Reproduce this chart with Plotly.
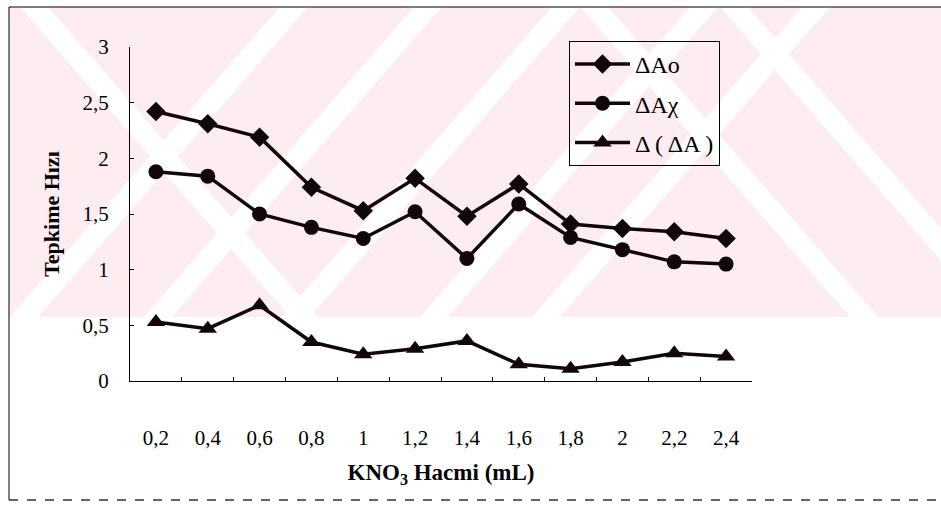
import plotly.graph_objects as go

# ---- data ----
categories = ["0,2", "0,4", "0,6", "0,8", "1", "1,2", "1,4", "1,6", "1,8", "2", "2,2", "2,4"]
dAo = [2.42, 2.31, 2.19, 1.74, 1.53, 1.82, 1.48, 1.77, 1.41, 1.37, 1.34, 1.28]
dAx = [1.88, 1.84, 1.50, 1.38, 1.28, 1.52, 1.10, 1.59, 1.29, 1.18, 1.07, 1.05]
ddA = [0.53, 0.47, 0.68, 0.35, 0.24, 0.29, 0.36, 0.15, 0.11, 0.17, 0.25, 0.22]
y_ticks = [0, 0.5, 1, 1.5, 2, 2.5, 3]
series_names = ["ΔAo", "ΔAχ", "Δ ( ΔA )"]

W, H = 941, 511
ML, MR, MT, MB = 130, 189, 47, 130
PW, PH = W - ML - MR, H - MT - MB

def px(x):
    return (x - ML) / PW

def py(y):
    return (H - MB - y) / PH

FONT = "Liberation Serif"
INK = "#120708"

fig = go.Figure()
symbols = ["diamond", "circle", "triangle-up"]
sizes = [15, 15, 16]
for i, (name, vals) in enumerate(zip(series_names, [dAo, dAx, ddA])):
    fig.add_trace(go.Scatter(
        x=categories, y=vals, name=name, mode="lines+markers",
        legendgroup=f"g{i}",
        line=dict(color=INK, width=3.5),
        marker=dict(symbol=symbols[i], size=sizes[i], color=INK,
                    line=dict(width=0)),
    ))

shapes = []
# watermark background (pink area with white diagonal gaps)
PINK = "#fdedf0"
YB, YT = 317, 7
shapes.append(dict(type="rect", xref="paper", yref="paper", layer="below",
                   x0=px(9), x1=px(941), y0=py(YB), y1=py(YT),
                   fillcolor=PINK, line=dict(width=0)))

def band(xb0, xb1, xt0, xt1):
    path = (f"M {px(xb0)},{py(YB)} L {px(xb1)},{py(YB)} "
            f"L {px(xt1)},{py(YT)} L {px(xt0)},{py(YT)} Z")
    return dict(type="path", xref="paper", yref="paper", layer="below",
                path=path, fillcolor="white", line=dict(width=0))

S = 270  # horizontal shift over the band height
G = 28   # gap width
# '/' gaps
for xb in [10, 144, 282, 420, 532]:
    shapes.append(band(xb, xb + G, xb + S, xb + S + G))
# '\' gaps
for xt in [20, 580, 720]:
    shapes.append(band(xt + S, xt + S + G, xt, xt + G))

# outer frame
shapes.append(dict(type="line", xref="paper", yref="paper",
                   x0=px(9), x1=px(9), y0=py(500), y1=py(7),
                   line=dict(color="black", width=1)))
shapes.append(dict(type="line", xref="paper", yref="paper",
                   x0=px(9), x1=px(941), y0=py(7), y1=py(7),
                   line=dict(color="black", width=1)))
shapes.append(dict(type="line", xref="paper", yref="paper",
                   x0=px(9), x1=px(941), y0=py(500), y1=py(500),
                   line=dict(color="#333", width=1.5, dash="dash")))

fig.update_layout(
    width=W, height=H,
    margin=dict(l=ML, r=MR, t=MT, b=MB),
    paper_bgcolor="white",
    plot_bgcolor="rgba(0,0,0,0)",
    separators=",.",
    shapes=shapes,
    showlegend=True,
    legend=dict(
        x=px(569), y=py(41), xanchor="left", yanchor="top",
        bgcolor="rgba(0,0,0,0)", bordercolor="black", borderwidth=1,
        font=dict(family=FONT, size=24, color="black"),
        traceorder="grouped", tracegroupgap=5, itemwidth=55,
    ),
    xaxis=dict(
        type="category", range=[-0.5, 11.5],
        showline=True, linecolor="black", linewidth=1,
        ticks="inside", ticklen=4, tickcolor="black", tickson="boundaries",
        showgrid=False, zeroline=False,
        tickfont=dict(family=FONT, size=21, color="black"),
        ticklabelstandoff=38,
        title=dict(text="<b>KNO<sub>3</sub> Hacmi (mL)</b>",
                   font=dict(family=FONT, size=23, color="black"), standoff=14),
    ),
    yaxis=dict(
        range=[0, 3], tickvals=y_ticks,
        showline=True, linecolor="black", linewidth=1,
        ticks="inside", ticklen=4, tickcolor="black",
        showgrid=False, zeroline=False,
        tickfont=dict(family=FONT, size=21, color="black"),
        ticklabelstandoff=16,
        title=dict(text="<b>Tepkime Hızı</b>",
                   font=dict(family=FONT, size=22, color="black"), standoff=16),
    ),
)

fig.write_html("out.html")
